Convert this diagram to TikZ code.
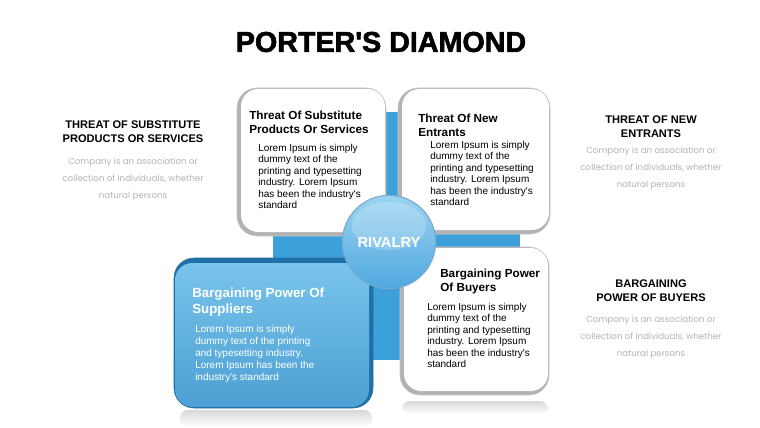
\documentclass[tikz,border=0pt]{standalone}
\usepackage{fontspec}
\setmainfont{Liberation Sans}[Ligatures=TeXOff]
\newfontfamily\notefont{Poppins}
\newfontface\titlefont{Liberation Sans Bold}[Ligatures=TeXOff, FakeBold=2]
\usepackage{tikz}
\usetikzlibrary{positioning, fit, calc}
\definecolor{deepblue}{RGB}{32,112,168}
\definecolor{midblue}{RGB}{61,160,218}
\definecolor{paleblue}{RGB}{122,197,236}
\definecolor{ballblue}{RGB}{80,168,222}
\definecolor{notegray}{RGB}{178,178,178}

\begin{document}
\begin{tikzpicture}[
    x=0.75pt, y=-0.75pt,
    whitebox/.style={
        rectangle, draw=gray!45, fill=gray!60,
        rounded corners=15pt, inner sep=0pt,
        path picture={\fill[white, rounded corners=13pt]
            ($(path picture bounding box.south west)+(4,-4)$) rectangle
            ($(path picture bounding box.north east)+(-1,1)$);}
    },
    bluebox/.style={
        rectangle, draw=deepblue, fill=deepblue,
        rounded corners=15pt, inner sep=0pt,
        path picture={\shade[top color=paleblue, bottom color=ballblue!95!black, rounded corners=13pt]
            ($(path picture bounding box.south west)+(1,-1)$) rectangle
            ($(path picture bounding box.north east)+(-4,5)$);}
    },
    rivalry/.style={
        circle, minimum size=70pt, inner sep=0pt,
        draw=deepblue!60, line width=0.8pt,
        top color=paleblue!75!white, bottom color=ballblue,
        text=white, font=\fontsize{11}{13}\selectfont\bfseries,
        path picture={\fill[white, opacity=0.2]
            ($(path picture bounding box.center)+(0,-16)$) ellipse [x radius=28pt, y radius=18pt];}
    },
    heading/.style={font=\titlefont\fontsize{21.5}{24}\selectfont},
    cardhead/.style={
        anchor=north west, inner sep=0pt, align=left,
        font=\fontsize{8.8}{10.5}\selectfont\bfseries
    },
    cardtext/.style={
        anchor=north west, inner sep=0pt, align=left,
        font=\fontsize{7.5}{8.6}\selectfont
    },
    sidehead/.style={
        anchor=north, inner sep=0pt, align=center,
        font=\fontsize{8.3}{10}\selectfont\bfseries
    },
    sidenote/.style={
        anchor=north, inner sep=0pt, align=center, text=notegray,
        font=\notefont\fontsize{6.5}{12.75}\selectfont
    }
]
    \useasboundingbox (0,0) rectangle (760,428);

    \node[heading] (title) at (381,42) {PORTER'S DIAMOND};

    \fill[midblue] (273,112) rectangle (520,360);
    \shade[top color=gray!30, bottom color=white, rounded corners=6pt] (180,410) rectangle (372,427);
    \shade[top color=gray!30, bottom color=white, rounded corners=6pt] (402,401) rectangle (548,414);

    \node[bluebox, fit={(174,258) (373,408)}] (suppliers) {};
    \node[whitebox, fit={(237,88) (386,236)}] (substitutes) {};
    \node[whitebox, fit={(398,88) (550,234)}] (entrants) {};
    \node[whitebox, fit={(400,247) (549,395)}] (buyers) {};
    \node[rivalry] (rival) at (389,242) {RIVALRY};

    \node[cardhead] (substhead) at (249,110.5) {Threat Of Substitute\\Products Or Services};
    \node[cardtext] (substtext) at (258,144) {Lorem Ipsum is simply\\dummy text of the\\printing and typesetting\\industry. Lorem Ipsum\\has been the industry's\\standard};
    \node[cardhead] (enthead) at (418,113.5) {Threat Of New\\Entrants};
    \node[cardtext] (enttext) at (430,141) {Lorem Ipsum is simply\\dummy text of the\\printing and typesetting\\industry. Lorem Ipsum\\has been the industry's\\standard};
    \node[cardhead] (buyhead) at (440,268.5) {Bargaining Power\\Of Buyers};
    \node[cardtext] (buytext) at (427,303) {Lorem Ipsum is simply\\dummy text of the\\printing and typesetting\\industry. Lorem Ipsum\\has been the industry's\\standard};
    \node[cardhead, text=white, font=\fontsize{10}{12}\selectfont\bfseries] (supphead) at (192,288) {Bargaining Power Of\\Suppliers};
    \node[cardtext, text=white, font=\fontsize{7.5}{9}\selectfont] (supptext) at (195,325) {Lorem Ipsum is simply\\dummy text of the printing\\and typesetting industry.\\Lorem Ipsum has been the\\industry's standard};

    \node[sidehead] (lefthead) at (133,121) {THREAT OF SUBSTITUTE\\PRODUCTS OR SERVICES};
    \node[sidenote] (leftnote) at (133,158) {Company is an association or\\collection of individuals, whether\\natural persons};
    \node[sidehead] (rtophead) at (651,116) {THREAT OF NEW\\ENTRANTS};
    \node[sidenote] (rtopnote) at (651,147) {Company is an association or\\collection of individuals, whether\\natural persons};
    \node[sidehead] (rbothead) at (651,280) {BARGAINING\\POWER OF BUYERS};
    \node[sidenote] (rbotnote) at (651,316) {Company is an association or\\collection of individuals, whether\\natural persons};
\end{tikzpicture}
\end{document}
